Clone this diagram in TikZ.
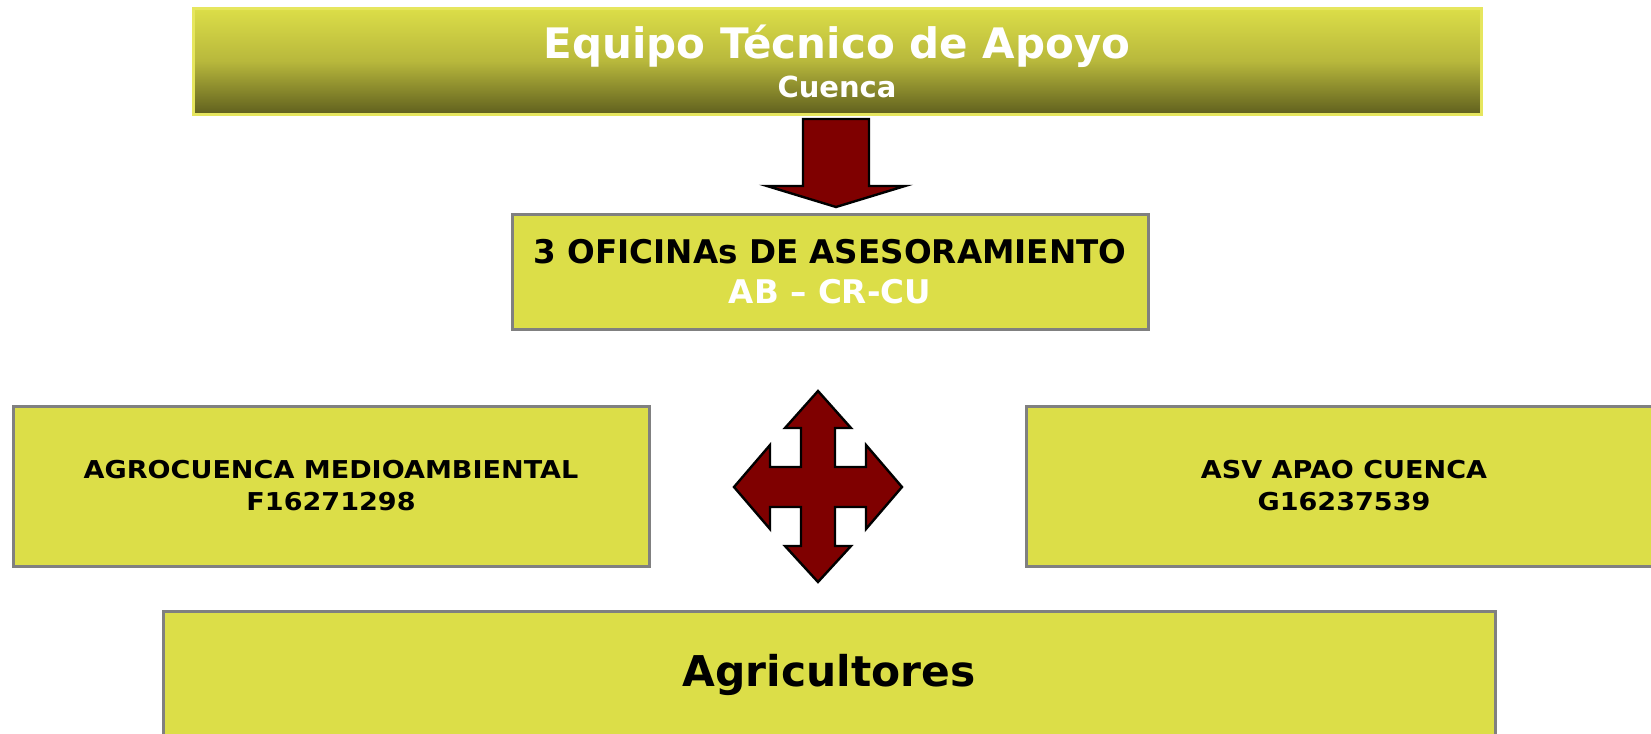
\documentclass[tikz,border=0pt]{standalone}
\usepackage{fontspec}
\setmainfont{DejaVu Sans}
\newfontfamily\widesans[FakeStretch=1.1]{DejaVu Sans}
\usepackage{xcolor}
\definecolor{leaf}{HTML}{DCDE48}
\definecolor{straw}{HTML}{B8B83C}
\definecolor{moss}{HTML}{60601E}
\definecolor{rim}{HTML}{E6E65E}
\definecolor{frame}{HTML}{808080}
\definecolor{wine}{HTML}{7F0000}
\usepackage{tikz}
\tikzset{
    header/.style = {
      draw = rim, line width = 1.5pt,
      top color = leaf, bottom color = moss, middle color = straw,
      minimum width = 644pt, minimum height = 53pt,
      inner sep = 0pt,
    },
    title/.style = {
      text = white,
      font = \fontsize{21}{25}\selectfont\bfseries,
    },
    box/.style = {
      draw = frame, line width = 1.5pt,
      fill = leaf,
      inner sep = 0pt,
      align = center,
    },
    bigarrow/.style = {
      draw = black, line width = 1.2pt,
      fill = wine,
      line join = miter,
    },
}
\begin{document}
\begin{tikzpicture}[x = 0.5pt, y = -0.5pt]
	\useasboundingbox (0, 0) rectangle (1651, 734);

	\node[header] (HEADER) at (837, 61) {};
	\node[title] (TITLE) at (837, 46) {Equipo Técnico de Apoyo};
	\node[title, font = \fontsize{14.5}{17}\selectfont\bfseries] (PLACE) at (837, 87) {Cuenca};

	\node[box, minimum width = 318pt, minimum height = 57.5pt,
	      font = \fontsize{16.3}{20}\selectfont\bfseries] (OFFICE) at (830, 271.5)
	      {3 OFICINAs DE ASESORAMIENTO\\\textcolor{white}{AB – CR-CU}};

	\node[box, minimum width = 318pt, minimum height = 80pt,
	      font = \fontsize{12.3}{16}\selectfont\widesans\bfseries] (AGRO) at (331, 486)
	      {AGROCUENCA MEDIOAMBIENTAL\\F16271298};
	\node[box, minimum width = 318pt, minimum height = 80pt,
	      font = \fontsize{12.3}{16}\selectfont\widesans\bfseries] (ASV) at (1344, 486)
	      {ASV APAO CUENCA\\G16237539};

	\node[box, minimum width = 666pt, minimum height = 64pt,
	      font = \fontsize{21.2}{26}\selectfont\bfseries] (FARMERS) at (829, 675)
	      {Agricultores};

	% block arrows
	\coordinate (DROP) at (836, 119);
	\coordinate (HUB) at (818, 487);

	\draw[bigarrow, shift = {(DROP)}] (-33, 0) -- (33, 0) -- (33, 67) -- (69, 67)
	      -- (0, 88) -- (-69, 67) -- (-33, 67) -- cycle;

	\draw[bigarrow, shift = {(HUB)}] (0, -96) -- (33, -59) -- (17, -59) -- (17, -20)
	      -- (48, -20) -- (48, -42) -- (84, 0) -- (48, 42) -- (48, 20) -- (17, 20)
	      -- (17, 59) -- (33, 59) -- (0, 95) -- (-33, 59) -- (-17, 59) -- (-17, 20)
	      -- (-48, 20) -- (-48, 42) -- (-84, 0) -- (-48, -42) -- (-48, -20)
	      -- (-17, -20) -- (-17, -59) -- (-33, -59) -- cycle;
\end{tikzpicture}
\end{document}
